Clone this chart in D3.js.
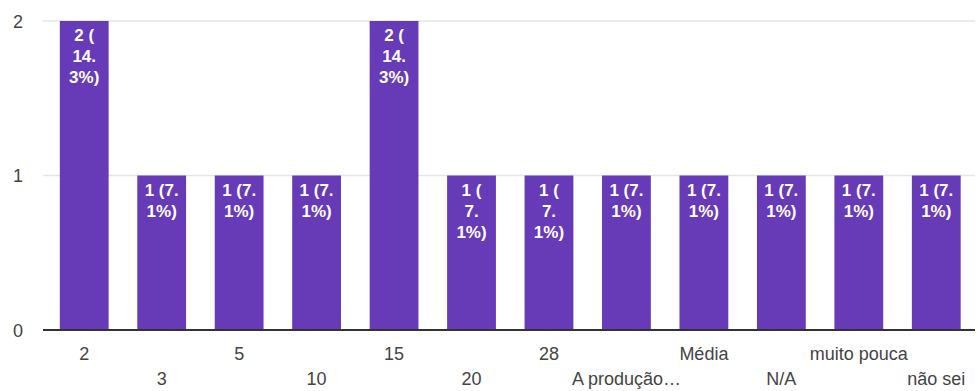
<!DOCTYPE html>
<html><head><meta charset="utf-8">
<script src="https://cdn.jsdelivr.net/npm/d3@7"></script>
<style>body{margin:0;background:#fff;}text{font-family:"Liberation Sans",Arial,sans-serif;}</style>
</head><body>
<svg id="c" width="977" height="391"></svg>
<script>
const categories = ["2","3","5","10","15","20","28","A produção…","Média","N/A","muito pouca","não sei"];
const values = [2,1,1,1,2,1,1,1,1,1,1,1];
const barLabels = [
  ["2 (","14.","3%)"],["1 (7.","1%)"],["1 (7.","1%)"],["1 (7.","1%)"],
  ["2 (","14.","3%)"],["1 (","7.","1%)"],["1 (","7.","1%)"],["1 (7.","1%)"],
  ["1 (7.","1%)"],["1 (7.","1%)"],["1 (7.","1%)"],["1 (7.","1%)"]
];
const yTicks = [0,1,2];

const svg = d3.select("#c");
const x = d3.scaleBand().domain(categories).range([45.5, 975]).paddingInner(0.37).paddingOuter(0.185);
const y = d3.scaleLinear().domain([0,2]).range([330, 21]);

svg.append("g").selectAll("line").data(yTicks.filter(d=>d>0)).join("line")
  .attr("x1",43).attr("x2",975).attr("y1",d=>y(d)).attr("y2",d=>y(d))
  .attr("stroke","#e6e6e6").attr("stroke-width",1.5);

svg.append("g").selectAll("text").data(yTicks).join("text")
  .attr("x",18).attr("y",d=>y(d)+6.5).attr("text-anchor","middle")
  .attr("font-size",18).attr("fill","#444").text(d=>d);

svg.append("g").selectAll("rect").data(values).join("rect")
  .attr("x",(d,i)=>x(categories[i])).attr("width",x.bandwidth())
  .attr("y",d=>y(d)).attr("height",d=>y(0)-y(d)).attr("fill","#673ab7");

const lg = svg.append("g");
values.forEach((v,i)=>{
  const cx = x(categories[i]) + x.bandwidth()/2;
  const t = lg.append("text").attr("text-anchor","middle").attr("font-size",17)
    .attr("font-weight","bold").attr("fill","#fff");
  barLabels[i].forEach((s,j)=>{
    t.append("tspan").attr("x",cx).attr("y",y(v)+20+j*21).text(s);
  });
});

svg.append("line").attr("x1",43).attr("x2",975).attr("y1",y(0)).attr("y2",y(0))
  .attr("stroke","#333").attr("stroke-width",2);

svg.append("g").selectAll("text").data(categories).join("text")
  .attr("x",d=>x(d)+x.bandwidth()/2).attr("y",(d,i)=> i%2===0 ? 360 : 385)
  .attr("text-anchor","middle").attr("font-size",18).attr("fill","#444").text(d=>d);
</script>
</body></html>
